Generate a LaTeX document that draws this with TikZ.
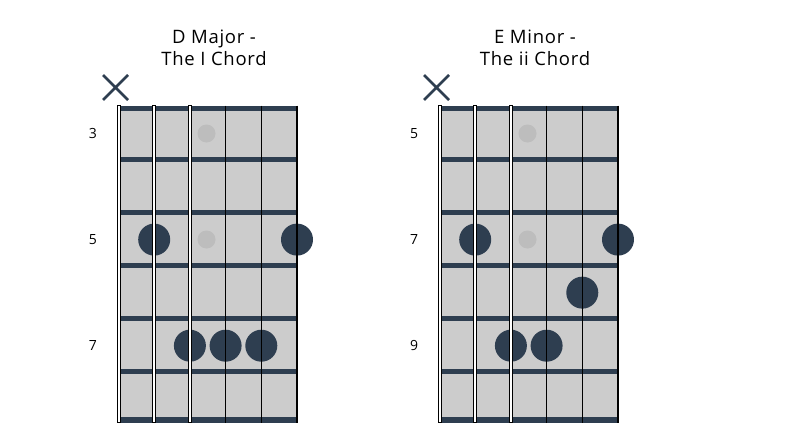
\documentclass[tikz,border=0pt]{standalone}
\usepackage{fontspec}
\setmainfont{Open Sans}
\newfontfamily\titlefont{Open Sans}[LetterSpace=4]
\definecolor{slate}{HTML}{2E3E50}
\definecolor{board}{HTML}{CCCCCC}
\definecolor{inlay}{HTML}{BDBDBD}
\tikzset{
  fretbar/.style={fill=slate},
  fingerdot/.style={fill=slate},
  inlaydot/.style={fill=inlay},
  woundstring/.style={draw=black, fill=white, line width=0.8},
  plainstring/.style={draw=black, line width=1.1},
  mutemark/.style={draw=slate, line width=2.8},
  fretnum/.style={font=\fontsize{14}{16}\selectfont},
  charttitle/.style={align=center, font=\titlefont\fontsize{18.5}{22}\selectfont},
}
\begin{document}
\begin{tikzpicture}[x=1pt,y=-1pt]
\useasboundingbox (0,0) rectangle (793,447);
\foreach \dx/\first/\name/\fingers in {%
    0/3/{D Major -\\The I Chord}/{2/3,6/3,3/5,4/5,5/5},%
    321/5/{E Minor -\\The ii Chord}/{2/3,6/3,5/4,3/5,4/5}} {
  \begin{scope}[xshift=\dx]
    % board and frets
    \fill[board] (118,105.7) rectangle (297.3,422.7);
    \fill[fretbar] (118,105.7) rectangle (297.3,110.7);
    \foreach \k in {0,...,4}
      \fill[fretbar] (118,{157.2+53.05*\k}) rectangle (297.3,{162.2+53.05*\k});
    \fill[fretbar] (118,416.7) rectangle (297.3,422.7);
    % inlays
    \fill[inlaydot] (206.5,133.5) circle (9);
    \fill[inlaydot] (206.5,239.5) circle (9);
    % fingers
    \foreach \s/\r in \fingers
      \fill[fingerdot] ({118.5+35.7*(\s-1)},{133.5+53.05*(\r-1)}) circle (16);
    % strings
    \draw[woundstring] (117.1,105.7) rectangle (120.3,422.7);
    \draw[woundstring] (152.6,105.7) rectangle (155.8,422.7);
    \draw[woundstring, line width=0.6] (188.5,105.7) rectangle (191.1,422.7);
    \foreach \s in {4,5,6}
      \draw[plainstring] ({118.5+35.7*(\s-1)},105.7) -- ({118.5+35.7*(\s-1)},422.7);
    % muted string
    \draw[mutemark] (103,75) -- (128,100) (103,100) -- (128,75);
    % fret numbers and title
    \pgfmathtruncatemacro{\second}{\first+2}
    \pgfmathtruncatemacro{\third}{\first+4}
    \node[fretnum] (n1) at (93,133.5) {\first};
    \node[fretnum] (n2) at (93,239.5) {\second};
    \node[fretnum] (n3) at (93,345.5) {\third};
    \node[charttitle] (title) at (214,48) {\name};
  \end{scope}
}
\end{tikzpicture}
\end{document}
